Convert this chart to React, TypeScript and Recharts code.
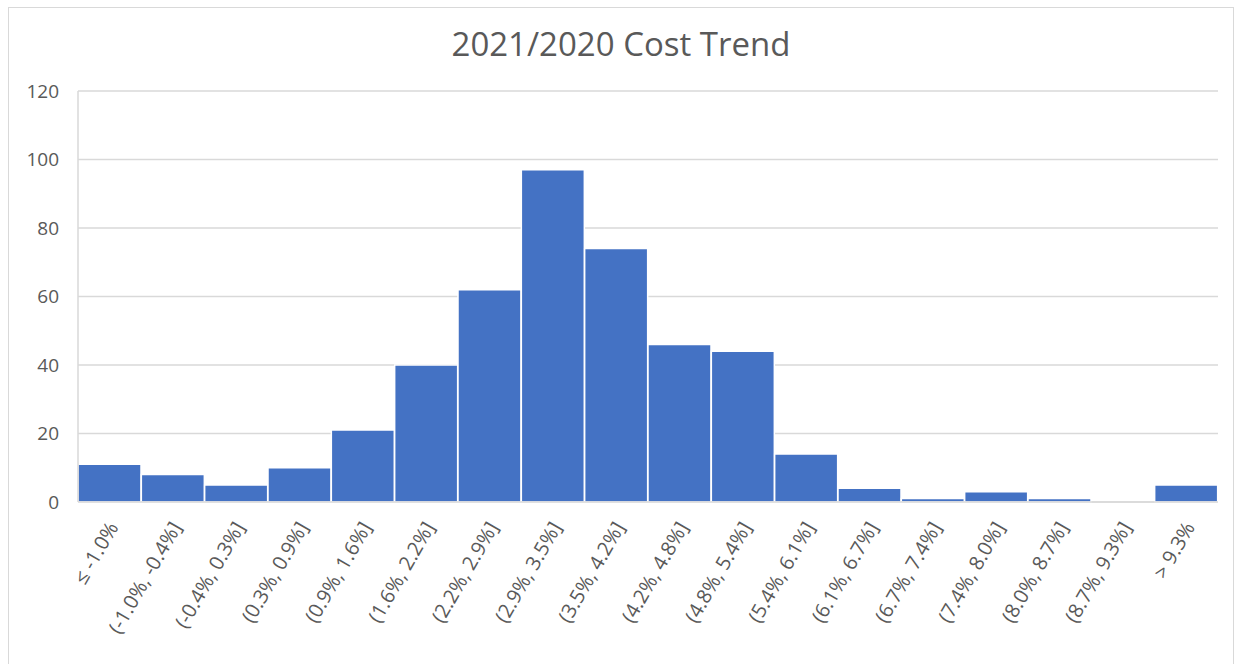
import { BarChart, Bar, XAxis, YAxis, CartesianGrid } from "recharts";

const bins = [
  "≤ -1.0%",
  "(-1.0%, -0.4%]",
  "(-0.4%, 0.3%]",
  "(0.3%, 0.9%]",
  "(0.9%, 1.6%]",
  "(1.6%, 2.2%]",
  "(2.2%, 2.9%]",
  "(2.9%, 3.5%]",
  "(3.5%, 4.2%]",
  "(4.2%, 4.8%]",
  "(4.8%, 5.4%]",
  "(5.4%, 6.1%]",
  "(6.1%, 6.7%]",
  "(6.7%, 7.4%]",
  "(7.4%, 8.0%]",
  "(8.0%, 8.7%]",
  "(8.7%, 9.3%]",
  "> 9.3%",
];

const counts = [11, 8, 5, 10, 21, 40, 62, 97, 74, 46, 44, 14, 4, 1, 3, 1, 0, 5];

const yTicks = [0, 20, 40, 60, 80, 100, 120];

const data = bins.map((bin, i) => ({ bin, count: counts[i] }));

const FONT = "'Open Sans', sans-serif";
const TEXT = "#595959";

export default function App() {
  return (
    <div
      style={{
        position: "absolute",
        left: 0,
        top: 0,
        width: 1236,
        height: 664,
        background: "#fff",
        overflow: "hidden",
      }}
    >
      <div
        style={{
          position: "absolute",
          left: 8,
          top: 7,
          width: 1226,
          height: 700,
          border: "1px solid #d9d9d9",
          boxSizing: "border-box",
        }}
      />
      <div
        style={{
          position: "absolute",
          left: 0,
          top: 21,
          width: 1242,
          textAlign: "center",
          fontFamily: FONT,
          fontSize: 33,
          color: TEXT,
        }}
      >
        2021/2020 Cost Trend
      </div>
      <div style={{ position: "absolute", left: 0, top: 0 }}>
        <BarChart
          width={1236}
          height={664}
          data={data}
          margin={{ top: 91, right: 18, left: 28, bottom: 0 }}
          barCategoryGap={0}
        >
          <CartesianGrid vertical={false} stroke="#d9d9d9" strokeWidth={1.5} />
          <XAxis
            dataKey="bin"
            interval={0}
            height={162}
            axisLine={{ stroke: "#d9d9d9", strokeWidth: 1.5 }}
            tickLine={false}
            tickMargin={12}
            tick={{
              fill: TEXT,
              fontSize: 20,
              fontFamily: FONT,
              angle: -60,
              textAnchor: "end",
              dx: -3,
            }}
          />
          <YAxis
            width={50}
            domain={[0, 120]}
            ticks={yTicks}
            axisLine={{ stroke: "#d9d9d9", strokeWidth: 1.5 }}
            tickLine={false}
            tickMargin={13}
            tick={{ fill: TEXT, fontSize: 19, fontFamily: FONT }}
          />
          <Bar
            dataKey="count"
            fill="#4472c4"
            stroke="#ffffff"
            strokeWidth={1.5}
            isAnimationActive={false}
          />
        </BarChart>
      </div>
    </div>
  );
}
